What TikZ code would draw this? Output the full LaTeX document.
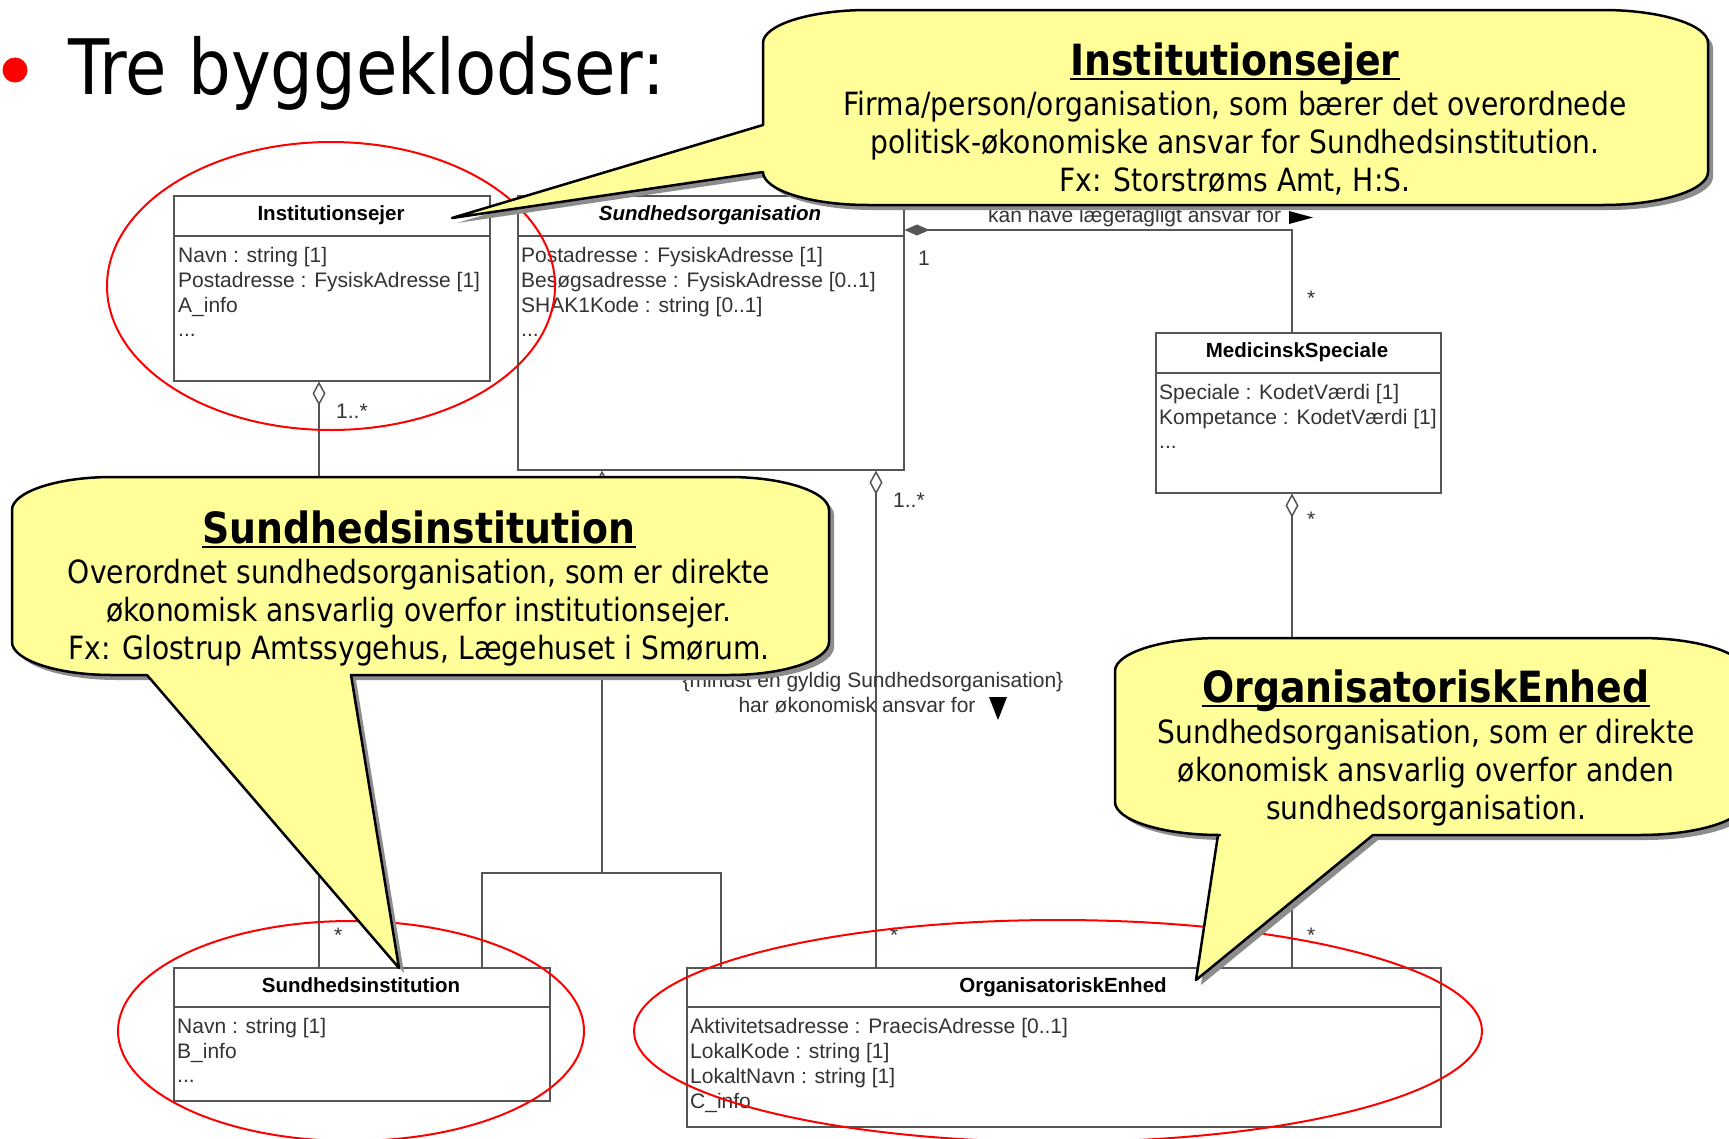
\documentclass[tikz,border=0pt]{standalone}
\usepackage{fontspec}
\usetikzlibrary{arrows.meta}
\newfontfamily\tahoma[FakeStretch=0.88]{DejaVu Sans}
\newfontfamily\umlf{Liberation Sans}
\definecolor{cyell}{HTML}{FFFF99}
\definecolor{umlline}{HTML}{555555}
\definecolor{umltext}{HTML}{333333}
\newcommand\calloutA[1]{\path[#1] (868,10) -- (1603,10) .. controls (1661,10) and (1708,25) .. (1708,43) -- (1708,172) .. controls (1708,190) and (1661,205) .. (1603,205) -- (868,205) .. controls (810,205) and (763,190) .. (763,172) -- (452,218) -- (763,125) -- (763,43) .. controls (763,25) and (810,10) .. (868,10) -- cycle;}
\newcommand\calloutB[1]{\path[#1] (112,477) -- (729,477) .. controls (784,477) and (829,492) .. (829,510) -- (829,642) .. controls (829,660) and (784,675) .. (729,675) -- (351,675) -- (399,968) -- (147,675) -- (112,675) .. controls (57,675) and (12,660) .. (12,642) -- (12,510) .. controls (12,492) and (57,477) .. (112,477) -- cycle;}
\newcommand\calloutC[1]{\path[#1] (1220,638) -- (1640,638) .. controls (1698,638) and (1745,653) .. (1745,671) -- (1745,802) .. controls (1745,820) and (1698,835) .. (1640,835) -- (1373,835) -- (1196,980) -- (1218,835) -- (1220,835) .. controls (1162,835) and (1115,820) .. (1115,802) -- (1115,671) .. controls (1115,653) and (1162,638) .. (1220,638) -- cycle;}
\begin{document}
\begin{tikzpicture}[x=1pt,y=-1pt,
  umlbox/.style={draw=umlline, line width=1.5pt, fill=white, anchor=north west, inner sep=0pt},
  umltitle/.style={anchor=base, inner sep=0pt, font=\umlf\bfseries\fontsize{20.5}{24}\selectfont},
  attr/.style={anchor=base west, inner sep=0pt, text=umltext, font=\umlf\fontsize{21}{25}\selectfont},
  conn/.style={draw=umlline, line width=1.5pt},
  shadowc/.style={fill=black!45, shift={(5,5)}},
  bubble/.style={fill=cyell, draw=black, line width=2.5pt, line join=round},
  ctitle/.style={anchor=base, inner sep=0pt, font=\tahoma\bfseries\fontsize{43}{48}\selectfont},
  ctext/.style={anchor=base, inner sep=0pt, font=\tahoma\fontsize{32}{38}\selectfont},
  ring/.style={draw=red, line width=2pt}
]
\useasboundingbox (0,0) rectangle (1729,1138);
\clip (0,0) rectangle (1729,1138);
\fill[white] (0,0) rectangle (1729,1138);

% heading
\fill[red] (15,70) circle[radius=12.5pt];
\node[anchor=base west, inner sep=0pt, font=\tahoma\fontsize{76.5}{80}\selectfont] (head) at (68,94) {Tre byggeklodser:};

% helper coordinates for connector columns
\coordinate (c1) at (319,0);
\coordinate (c3) at (876,0);
\coordinate (c5) at (1292,0);
\coordinate (gl) at (482,0);
\coordinate (gr) at (721,0);
\coordinate (gbar) at (602,873);
\coordinate (cy) at (0,230);

% UML boxes
\node[umlbox, minimum width=316pt, minimum height=185pt] (inst) at (173,195) {};
\node[umlbox, minimum width=386pt, minimum height=274pt] (sorg) at (517,195) {};
\node[umlbox, minimum width=285pt, minimum height=160pt] (medsp) at (1155,332) {};
\node[umlbox, minimum width=376pt, minimum height=133pt] (sinst) at (173,967) {};
\node[umlbox, minimum width=754pt, minimum height=159pt] (orge) at (686,967) {};

\draw[conn] ([yshift=-41pt]inst.north west) -- ([yshift=-41pt]inst.north east);
\draw[conn] ([yshift=-41pt]sorg.north west) -- ([yshift=-41pt]sorg.north east);
\draw[conn] ([yshift=-41pt]medsp.north west) -- ([yshift=-41pt]medsp.north east);
\draw[conn] ([yshift=-40pt]sinst.north west) -- ([yshift=-40pt]sinst.north east);
\draw[conn] ([yshift=-40pt]orge.north west) -- ([yshift=-40pt]orge.north east);

% titles
\node[umltitle] (instT) at (331,220) {Institutionsejer};
\node[umltitle, font=\umlf\bfseries\itshape\fontsize{20.5}{24}\selectfont] (sorgT) at (710,220) {Sundhedsorganisation};
\node[umltitle] (medspT) at (1297,357) {MedicinskSpeciale};
\node[umltitle] (sinstT) at (361,992) {Sundhedsinstitution};
\node[umltitle] (orgeT) at (1063,992) {OrganisatoriskEnhed};

% attributes
\node[attr] (ia1) at (178,262) {Navn : string [1]};
\node[attr] (ia2) at (178,287) {Postadresse : FysiskAdresse [1]};
\node[attr] (ia3) at (178,312) {A\_info};
\node[attr] (ia4) at (178,336) {...};

\node[attr] (sa1) at (521,262) {Postadresse : FysiskAdresse [1]};
\node[attr] (sa2) at (521,287) {Besøgsadresse : FysiskAdresse [0..1]};
\node[attr] (sa3) at (521,312) {SHAK1Kode : string [0..1]};
\node[attr] (sa4) at (521,336) {...};

\node[attr] (ma1) at (1159,399) {Speciale : KodetVærdi [1]};
\node[attr] (ma2) at (1159,424) {Kompetance : KodetVærdi [1]};
\node[attr] (ma3) at (1159,448) {...};

\node[attr] (na1) at (177,1033) {Navn : string [1]};
\node[attr] (na2) at (177,1058) {B\_info};
\node[attr] (na3) at (177,1082) {...};

\node[attr] (oa1) at (690,1033) {Aktivitetsadresse : PraecisAdresse [0..1]};
\node[attr] (oa2) at (690,1058) {LokalKode : string [1]};
\node[attr] (oa3) at (690,1083) {LokaltNavn : string [1]};
\node[attr] (oa4) at (690,1108) {C\_info};

% connectors
\draw[conn, {Diamond[open,length=24pt,width=13pt]}-] (inst.south -| c1) -- (sinst.north -| c1);
\draw[conn, {Triangle[open,length=16pt,width=16pt]}-] (sorg.south -| gbar) -- (gbar);
\draw[conn] (sinst.north -| gl) |- (gbar) -| (orge.north -| gr);
\draw[conn, {Diamond[open,length=24pt,width=13pt]}-] (sorg.south -| c3) -- (orge.north -| c3);
\draw[conn, {Diamond[fill=umlline,length=25pt,width=11pt]}-] (sorg.east |- cy) -| (medsp.north -| c5);
\draw[conn, {Diamond[open,length=24pt,width=13pt]}-] (medsp.south -| c5) -- (orge.north -| c5);

% multiplicities and labels
\node[attr] (m1) at (336,418) {1..*};
\node[attr] (m2) at (334,942) {*};
\node[attr] (m3) at (893,507) {1..*};
\node[attr] (m4) at (890,942) {*};
\node[attr] (m5) at (1307,526) {*};
\node[attr] (m6) at (1307,942) {*};
\node[attr] (m7) at (918,265) {1};
\node[attr] (m8) at (1307,305) {*};
\node[attr] (lab1) at (988,222) {kan have lægefagligt ansvar for};
\fill[black] (1289,211) -- (1313,217.5) -- (1289,224) -- cycle;
\node[attr, anchor=base] (lab2) at (873,687) {\{mindst en gyldig Sundhedsorganisation\}};
\node[attr, anchor=base] (lab3) at (857,712) {har økonomisk ansvar for};
\fill[black] (989,697) -- (1007,697) -- (998,720) -- cycle;

% red rings
\draw[ring] (331,286) ellipse [x radius=224pt, y radius=144pt];
\draw[ring] (351,1031) ellipse [x radius=233pt, y radius=110pt];
\draw[ring] (1058,1031) ellipse [x radius=424pt, y radius=111pt];

% callouts
\calloutA{shadowc}
\calloutA{bubble}
\calloutB{shadowc}
\calloutB{bubble}
\calloutC{shadowc}
\calloutC{bubble}

\node[ctitle] (k1t) at (1235,75) {Institutionsejer};
\draw[line width=2.5pt] ([yshift=-4pt]k1t.base west) -- ([yshift=-4pt]k1t.base east);
\node[ctext] (k1a) at (1235,115) {Firma/person/organisation, som bærer det overordnede};
\node[ctext] (k1b) at (1235,153) {politisk-økonomiske ansvar for Sundhedsinstitution.};
\node[ctext] (k1c) at (1235,191) {Fx: Storstrøms Amt, H:S.};

\node[ctitle] (k2t) at (419,543) {Sundhedsinstitution};
\draw[line width=2.5pt] ([yshift=-4pt]k2t.base west) -- ([yshift=-4pt]k2t.base east);
\node[ctext] (k2a) at (419,583) {Overordnet sundhedsorganisation, som er direkte};
\node[ctext] (k2b) at (419,621) {økonomisk ansvarlig overfor institutionsejer.};
\node[ctext] (k2c) at (419,659) {Fx: Glostrup Amtssygehus, Lægehuset i Smørum.};

\node[ctitle] (k3t) at (1426,702) {OrganisatoriskEnhed};
\draw[line width=2.5pt] ([yshift=-4pt]k3t.base west) -- ([yshift=-4pt]k3t.base east);
\node[ctext] (k3a) at (1426,743) {Sundhedsorganisation, som er direkte};
\node[ctext] (k3b) at (1426,781) {økonomisk ansvarlig overfor anden};
\node[ctext] (k3c) at (1426,819) {sundhedsorganisation.};
\end{tikzpicture}
\end{document}
